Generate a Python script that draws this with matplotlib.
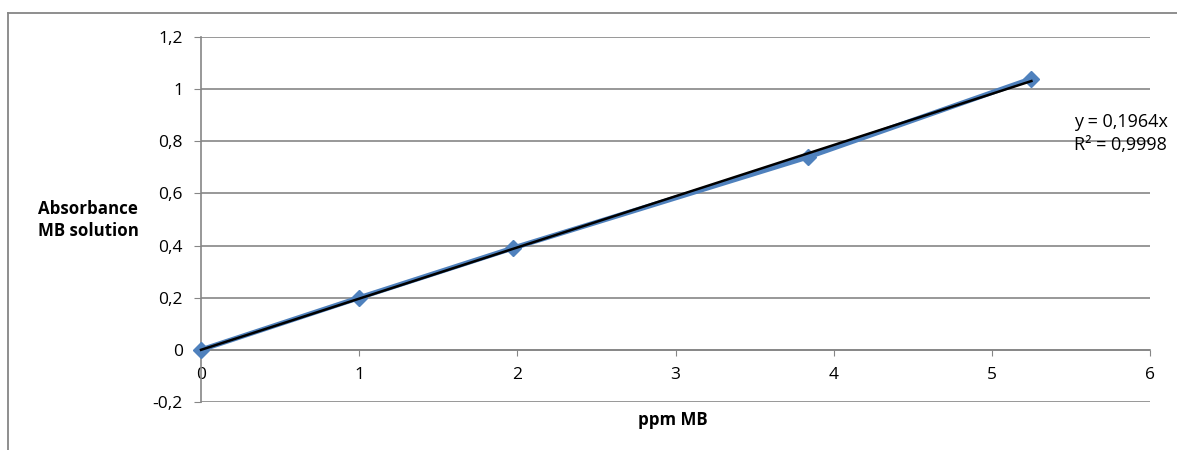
import matplotlib.pyplot as plt
from matplotlib.lines import Line2D
from matplotlib.ticker import FuncFormatter, MultipleLocator

plt.rcParams['font.family'] = ['Open Sans', 'DejaVu Sans']

ppm = [0, 1.0, 1.97, 3.84, 5.25]
absorbance = [0, 0.20, 0.39, 0.74, 1.04]
slope = 0.1964
r2 = 0.9998

fig = plt.figure(figsize=(11.77, 4.5), dpi=100)
ax = fig.add_axes([0.1708, 0.1067, 0.8063, 0.8111])

# outer chart frame (clipped by the image on right/bottom)
fig.add_artist(Line2D([8/1177, 8/1177], [0, 1 - 13/450], transform=fig.transFigure,
                      color='#868686', lw=1.3))
fig.add_artist(Line2D([8/1177, 1], [1 - 13/450, 1 - 13/450], transform=fig.transFigure,
                      color='#868686', lw=1.3))

ax.plot(ppm, absorbance, '-D', color='#4F81BD', lw=3.6, ms=8, zorder=3, clip_on=False)
fit_x = [0, ppm[-1]]
ax.plot(fit_x, [slope * v for v in fit_x], color='black', lw=1.8, zorder=4, clip_on=False)

ax.set_xlim(0, 6)
ax.set_ylim(-0.2, 1.2)
ax.xaxis.set_major_locator(MultipleLocator(1))
ax.yaxis.set_major_locator(MultipleLocator(0.2))
fmt = FuncFormatter(lambda v, p: (f'{v:.1f}'.rstrip('0').rstrip('.') if abs(v) > 1e-9 else '0').replace('.', ','))
ax.xaxis.set_major_formatter(fmt)
ax.yaxis.set_major_formatter(fmt)

ax.grid(axis='y', color='#868686', lw=1.2)
ax.set_axisbelow(True)
for s in ['top', 'right']:
    ax.spines[s].set_visible(False)
ax.spines['bottom'].set_position(('data', 0))
ax.spines['bottom'].set_color('#868686')
ax.spines['left'].set_color('#868686')
ax.spines['bottom'].set_linewidth(1.2)
ax.spines['left'].set_linewidth(1.2)
ax.tick_params(axis='x', direction='out', length=4, color='#868686', labelsize=12.5, pad=8)
ax.tick_params(axis='y', direction='out', length=5, color='#868686', labelsize=12.5, pad=8)

ax.text(5.52, 0.874, f'y = {slope}x'.replace('.', ','), fontsize=13, va='center', ha='left')
ax.text(5.52, 0.785, f'R² = {r2}'.replace('.', ','), fontsize=13, va='center', ha='left')

fig.text(88/1177, 1 - 220/450, 'Absorbance\nMB solution', fontsize=12.2, fontweight='bold',
         ha='center', va='center', linespacing=1.35)
fig.text(673/1177, 1 - 420/450, 'ppm MB', fontsize=12.2, fontweight='bold',
         ha='center', va='center')

fig.savefig('out.png', dpi=100)
